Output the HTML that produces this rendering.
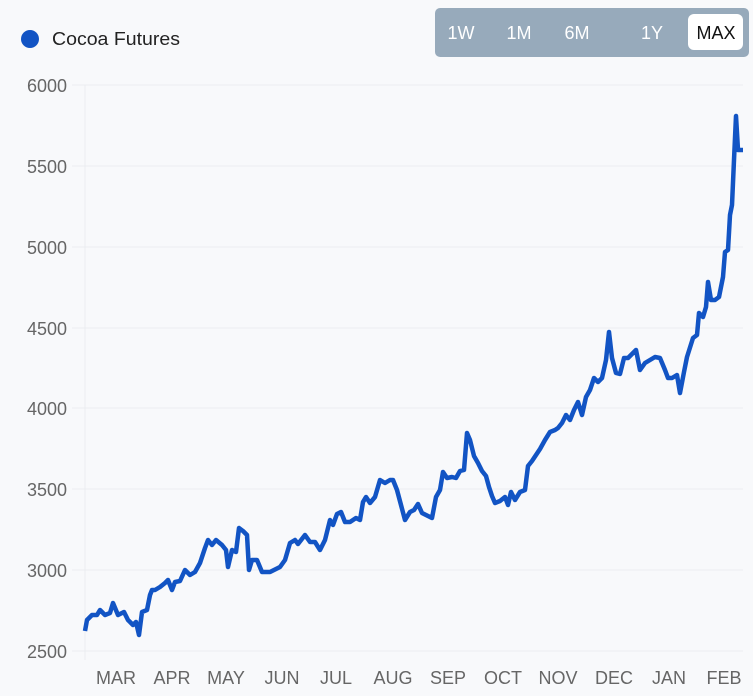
<!DOCTYPE html>
<html><head><style>
body{margin:0;background:#f8f9fb;font-family:"Liberation Sans",sans-serif;}
</style></head><body>
<svg width="753" height="696" xmlns="http://www.w3.org/2000/svg" style="display:block">
<rect width="753" height="696" fill="#f8f9fb"/>
<circle cx="30" cy="39" r="9" fill="#1254c4"/>
<text x="52" y="45" font-size="18" fill="#222" textLength="128" lengthAdjust="spacingAndGlyphs">Cocoa Futures</text>
<rect x="435" y="8" width="314" height="49" rx="5" fill="#97aabb"/>
<rect x="688" y="14" width="55" height="36" rx="6" fill="#fff"/>
<g font-size="18" fill="#fff"><text x="461" y="39" text-anchor="middle">1W</text><text x="519" y="39" text-anchor="middle">1M</text><text x="577" y="39" text-anchor="middle">6M</text><text x="652" y="39" text-anchor="middle">1Y</text></g>
<text x="716" y="39" font-size="18" fill="#111" text-anchor="middle">MAX</text>
<g stroke="#ebedf0" stroke-width="1">
<line x1="72" y1="85" x2="743" y2="85"/><line x1="72" y1="166" x2="743" y2="166"/><line x1="72" y1="247" x2="743" y2="247"/><line x1="72" y1="328" x2="743" y2="328"/><line x1="72" y1="408" x2="743" y2="408"/><line x1="72" y1="489" x2="743" y2="489"/><line x1="72" y1="570" x2="743" y2="570"/><line x1="72" y1="651" x2="743" y2="651"/>
<line x1="85" y1="85" x2="85" y2="660"/>
</g>
<g font-size="18" fill="#666" text-anchor="end">
<text x="67" y="92">6000</text><text x="67" y="173">5500</text><text x="67" y="254">5000</text><text x="67" y="335">4500</text><text x="67" y="415">4000</text><text x="67" y="496">3500</text><text x="67" y="577">3000</text><text x="67" y="658">2500</text>
</g>
<g font-size="18" fill="#666" text-anchor="middle">
<text x="116" y="684">MAR</text><text x="172" y="684">APR</text><text x="226" y="684">MAY</text><text x="282" y="684">JUN</text><text x="336" y="684">JUL</text><text x="393" y="684">AUG</text><text x="448" y="684">SEP</text><text x="503" y="684">OCT</text><text x="558" y="684">NOV</text><text x="614" y="684">DEC</text><text x="669" y="684">JAN</text><text x="724" y="684">FEB</text>
</g>
<polyline fill="none" stroke="#1254c4" stroke-width="4.5" stroke-linejoin="round" points="85,631 87,620 92,615 97,615 100,610 105,615 110,613 113,603 118,615 124,612 128,620 133,625 136,622 139,635 142,612 147,610 150,595 152,590 155,590 160,587 165,583 168,580 172,590 175,582 180,581 185,570 190,575 195,572 200,563 205,548 208,540 212,545 216,540 222,545 226,550 228,567 232,550 236,552 239,528 243,531 247,535 249,570 252,560 257,560 262,572 270,572 280,567 285,560 290,543 295,540 298,544 305,535 310,542 315,542 320,550 325,540 330,520 333,525 337,514 341,512 345,522 350,522 356,518 360,520 363,502 366,497 370,503 375,497 380,480 385,483 390,480 393,480 397,490 401,505 405,520 410,512 414,510 418,504 422,513 428,516 432,518 436,497 440,490 443,472 447,478 452,477 456,478 460,471 464,470 467,433 470,440 474,456 478,463 482,471 486,476 489,487 492,496 495,503 500,501 505,497 508,505 511,492 515,500 520,492 525,490 528,466 532,461 536,455 540,449 545,440 550,432 555,430 558,428 562,423 566,415 570,420 574,410 578,402 582,415 586,397 590,390 594,378 598,382 602,378 606,360 609,332 612,358 616,373 620,374 624,358 628,358 632,354 636,350 640,370 645,363 650,360 655,357 660,358 665,370 668,378 672,378 677,375 680,393 684,372 687,357 693,338 697,335 699,313 703,317 706,307 708,282 711,300 715,300 719,297 723,277 725,252 728,250 730,215 732,205 734,160 736,116 738,150 743,150"/>
</svg>
</body></html>
